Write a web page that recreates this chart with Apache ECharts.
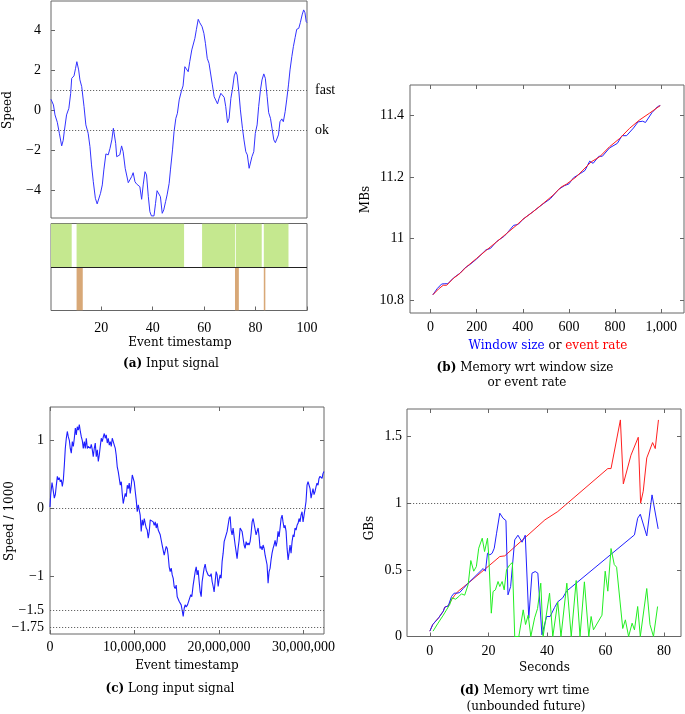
<!DOCTYPE html>
<html><head><meta charset="utf-8">
<script src="https://cdn.jsdelivr.net/npm/echarts@6/dist/echarts.min.js"></script>
<style>html,body{margin:0;padding:0;background:#fff}#c{width:685px;height:714px}</style>
</head><body><div id="c"></div>
<script>
// ---------- (a) Input signal ----------
const inputSignal = [[0.45,0.55],[1.4,0.27],[2.0,-0.23],[2.9,-0.6],[3.7,-1.15],[4.1,-1.2],[4.6,-1.78],[5.2,-1.5],[5.6,-1.07],[6.5,-0.23],[7.4,0.1],[8.1,0.85],[8.5,1.6],[9.4,1.72],[10.0,2.1],[10.5,2.43],[11.2,2.02],[11.7,1.52],[12.4,1.18],[13.3,0.18],[14.0,-0.73],[14.9,-1.15],[15.6,-1.82],[16.2,-2.73],[16.9,-3.57],[17.7,-4.4],[18.4,-4.68],[19.1,-4.68],[19.7,-4.15],[20.4,-3.73],[21.0,-2.98],[21.8,-2.18],[22.7,-2.23],[23.4,-1.9],[24.1,-1.48],[24.7,-0.9],[25.0,-0.98],[25.6,-1.65],[26.0,-2.32],[26.6,-2.28],[27.2,-2.23],[27.9,-1.78],[28.5,-2.07],[29.3,-2.9],[29.8,-2.98],[30.5,-3.62],[31.1,-3.57],[31.8,-3.32],[32.4,-3.12],[33.1,-3.57],[33.7,-3.68],[34.4,-3.62],[35.0,-3.82],[35.7,-4.45],[36.3,-3.73],[37.0,-3.07],[37.6,-3.23],[38.3,-4.32],[38.9,-5.07],[39.5,-5.28],[40.5,-5.28],[41.1,-4.65],[41.7,-4.02],[42.4,-3.95],[43.0,-4.32],[43.7,-5.15],[44.3,-4.98],[45.0,-4.57],[45.6,-4.23],[46.4,-3.65],[46.9,-2.98],[47.7,-1.98],[48.3,-1.07],[49.0,-0.4],[49.6,-0.15],[50.3,0.52],[51.2,0.98],[51.8,1.22],[52.5,2.18],[53.1,2.1],[53.8,1.93],[54.4,2.43],[55.2,3.02],[55.7,3.1],[56.4,3.6],[57.0,4.05],[57.7,4.55],[58.3,4.38],[59.2,4.18],[59.9,3.85],[60.5,3.35],[61.2,2.6],[61.9,2.35],[62.6,2.27],[63.2,1.27],[63.9,0.68],[64.5,0.6],[65.2,0.32],[65.8,0.6],[66.5,0.85],[67.1,0.8],[67.8,0.65],[68.4,0.18],[69.1,-0.62],[69.7,-0.4],[70.4,0.6],[71.0,1.05],[71.7,1.72],[72.3,1.93],[72.8,1.77],[73.5,0.93],[74.1,0.02],[74.9,-0.9],[75.5,-1.48],[76.2,-2.07],[76.8,-2.23],[77.5,-2.9],[78.0,-2.95],[78.6,-2.32],[79.3,-2.07],[79.9,-1.15],[80.6,-0.73],[81.2,0.18],[81.9,1.02],[82.5,1.52],[83.2,1.82],[83.8,1.6],[84.5,0.68],[85.1,-0.12],[85.8,-0.4],[86.4,-0.9],[87.1,-1.48],[87.7,-1.62],[88.3,-1.68],[88.9,-1.23],[89.5,-0.57],[90.2,-0.43],[90.8,-0.57],[91.5,-0.07],[92.1,0.52],[92.8,1.27],[93.4,2.02],[94.1,2.68],[94.7,3.18],[95.4,3.65],[96.0,4.05],[96.8,4.1],[97.4,4.38],[98.1,4.77],[98.7,5.02],[99.2,4.88],[99.7,4.43],[100,4.38]];
const thresholds = [{value:1,label:'fast'},{value:-1,label:'ok'}];
const greenBands = [[0.45,8.5],[10.4,52.2],[59.2,72.0],[72.3,82.4],[83.2,92.8]];
const brownBands = [[10.4,12.8],[72.0,73.5],[83.2,83.8]];
const aTicksX = [20,40,60,80,100];
const aTicksY = [-4,-2,0,2,4];

// ---------- (b) Memory wrt window size / event rate ----------
const memWindow = [[10,10.817],[30,10.838],[48,10.852],[62,10.853],[75,10.853],[100,10.872],[127,10.887],[150,10.905],[170,10.915],[199,10.933],[240,10.963],[260,10.968],[286,10.99],[320,11.008],[340,11.025],[360,11.043],[380,11.046],[401,11.063],[440,11.085],[488,11.113],[520,11.13],[555,11.16],[580,11.172],[600,11.178],[620,11.198],[650,11.212],[670,11.222],[690,11.252],[705,11.245],[730,11.268],[745,11.268],[776,11.295],[810,11.31],[830,11.335],[850,11.335],[880,11.36],[900,11.38],[920,11.382],[932,11.378],[960,11.41],[985,11.43],[996,11.433]];
const memRate = [[10,10.817],[35,10.836],[55,10.848],[70,10.848],[98,10.870],[127,10.886],[156,10.908],[199,10.935],[242,10.962],[286,10.989],[329,11.016],[372,11.043],[401,11.063],[444,11.087],[488,11.114],[531,11.141],[567,11.168],[589,11.177],[632,11.201],[661,11.223],[697,11.25],[733,11.266],[776,11.299],[820,11.326],[863,11.359],[906,11.386],[949,11.408],[996,11.433]];
const bTicksX = [0,200,400,600,800,1000];
const bTicksY = [10.8,11,11.2,11.4];

// ---------- (c) Long input signal (timestamps in millions) ----------
const longSignal = [[0,0.02],[0.08,0.20],[0.24,0.38],[0.35,0.29],[0.51,0.15],[0.63,0.20],[0.75,0.34],[0.87,0.47],[0.99,0.42],[1.10,0.45],[1.22,0.39],[1.34,0.42],[1.46,0.32],[1.58,0.42],[1.70,0.64],[1.81,0.88],[1.93,1.03],[2.05,1.13],[2.17,1.05],[2.29,1.00],[2.40,0.88],[2.52,0.81],[2.64,0.98],[2.76,0.91],[2.88,1.03],[3.00,1.18],[3.11,1.08],[3.23,1.20],[3.35,1.15],[3.47,1.23],[3.59,1.13],[3.71,1.05],[3.82,1.00],[3.94,0.88],[4.06,0.98],[4.18,0.88],[4.30,1.03],[4.42,0.88],[4.53,0.91],[4.65,0.93],[4.77,0.88],[4.89,0.94],[5.01,0.86],[5.12,0.76],[5.24,0.88],[5.36,0.96],[5.48,0.76],[5.60,0.86],[5.72,0.69],[5.83,0.78],[5.95,0.91],[6.07,1.03],[6.19,0.98],[6.31,1.05],[6.43,1.10],[6.54,1.03],[6.66,1.08],[6.78,0.96],[6.90,1.03],[7.02,0.93],[7.14,0.98],[7.25,0.91],[7.37,1.03],[7.49,0.98],[7.61,0.93],[7.73,0.88],[7.84,0.78],[7.96,0.61],[8.08,0.54],[8.20,0.44],[8.32,0.34],[8.44,0.39],[8.55,0.22],[8.67,0.07],[8.79,0.15],[8.91,0.22],[9.03,0.17],[9.15,0.34],[9.26,0.29],[9.38,0.37],[9.50,0.22],[9.62,0.34],[9.74,0.49],[9.86,0.47],[9.97,0.39],[10.09,0.25],[10.21,0.12],[10.33,-0.05],[10.45,0.05],[10.56,0.07],[10.68,-0.10],[10.80,-0.34],[10.92,-0.17],[11.04,-0.25],[11.16,-0.15],[11.27,-0.22],[11.39,-0.29],[11.51,-0.32],[11.63,-0.44],[11.75,-0.34],[11.87,-0.17],[11.98,-0.15],[12.10,-0.17],[12.22,-0.20],[12.34,-0.25],[12.46,-0.20],[12.58,-0.29],[12.69,-0.22],[12.81,-0.32],[12.93,-0.34],[13.05,-0.39],[13.17,-0.47],[13.28,-0.54],[13.40,-0.56],[13.52,-0.69],[13.64,-0.71],[13.76,-0.56],[13.88,-0.59],[13.99,-0.69],[14.11,-0.86],[14.23,-0.93],[14.35,-0.88],[14.47,-0.98],[14.59,-1.03],[14.70,-1.15],[14.82,-1.18],[14.94,-1.13],[15.06,-1.30],[15.18,-1.32],[15.30,-1.37],[15.41,-1.35],[15.53,-1.42],[15.65,-1.50],[15.77,-1.59],[15.89,-1.47],[16.00,-1.42],[16.12,-1.45],
[16.28,-1.42],[16.48,-1.40],[16.67,-1.27],[16.79,-1.30],[16.95,-1.13],[17.07,-1.03],[17.19,-0.93],[17.31,-0.86],[17.42,-0.98],[17.54,-0.91],[17.66,-1.08],[17.78,-1.23],[17.90,-1.30],[18.01,-1.08],[18.13,-0.98],[18.25,-0.88],[18.37,-0.82],[18.49,-0.91],[18.61,-0.93],[18.72,-0.98],[18.84,-0.96],[18.96,-1.00],[19.08,-0.96],[19.20,-1.08],[19.32,-1.15],[19.43,-1.23],[19.55,-1.08],[19.67,-0.93],[19.79,-0.98],[19.91,-1.15],[20.02,-1.05],[20.14,-0.98],[20.26,-1.03],[20.38,-0.78],[20.50,-0.66],[20.62,-0.49],[20.73,-0.47],[20.85,-0.51],[20.97,-0.34],[21.09,-0.32],[21.21,-0.15],[21.33,-0.12],[21.44,-0.32],[21.56,-0.39],[21.68,-0.29],[21.80,-0.42],[21.92,-0.54],[22.04,-0.64],[22.15,-0.74],[22.27,-0.59],[22.39,-0.47],[22.51,-0.29],[22.63,-0.27],[22.74,-0.34],[22.86,-0.44],[22.98,-0.54],[23.10,-0.59],[23.22,-0.49],[23.34,-0.54],[23.45,-0.51],[23.57,-0.54],[23.69,-0.49],[23.81,-0.37],[23.93,-0.20],[24.05,-0.15],[24.16,-0.15],[24.28,-0.17],[24.40,-0.39],[24.52,-0.34],[24.64,-0.29],[24.76,-0.42],[24.87,-0.59],[24.99,-0.56],[25.11,-0.61],[25.23,-0.54],[25.35,-0.59],[25.47,-0.69],[25.58,-0.71],[25.70,-0.83],[25.82,-1.10],[25.94,-0.93],[26.06,-0.88],[26.17,-0.76],[26.29,-0.66],[26.41,-0.59],[26.53,-0.54],[26.65,-0.47],[26.77,-0.56],[26.88,-0.49],[27.00,-0.34],[27.12,-0.42],[27.24,-0.29],[27.36,-0.15],[27.48,-0.10],[27.59,-0.20],[27.71,-0.29],[27.83,-0.25],[27.95,-0.34],[28.07,-0.59],[28.19,-0.76],[28.30,-0.66],[28.42,-0.54],[28.54,-0.66],[28.66,-0.49],[28.78,-0.39],[28.89,-0.42],[29.01,-0.29],[29.13,-0.32],[29.25,-0.25],[29.37,-0.22],[29.49,-0.15],[29.60,-0.20],[29.72,-0.10],[29.84,-0.05],[29.96,-0.20],[30.08,-0.10],[30.20,0.00],[30.31,0.10],[30.43,0.34],[30.55,0.39],[30.67,0.37],[30.79,0.29],[30.91,0.15],[31.02,0.22],[31.14,0.29],[31.26,0.20],[31.38,0.25],[31.50,0.32],[31.61,0.37],[31.73,0.34],[31.85,0.44],[31.97,0.47],[32.09,0.49],[32.21,0.44],[32.32,0.51],[32.44,0.54]];
const longRefLines = [0,-1.5,-1.75];
const cTicksX = [0,10,20,30];
const cTicksY = [1,0,-1];
const cLabelsY = [1,0,-1,-1.5,-1.75];

// ---------- (d) Memory wrt time ----------
const memRed = [[0,0.04],[1,0.09],[3,0.14],[4.6,0.19],[5.1,0.22],[6.3,0.23],[7.4,0.275],[8.5,0.31],[9.7,0.34],[11.4,0.37],[13.1,0.40],[19.9,0.525],[23.9,0.60],[25.6,0.605],[39.3,0.875],[43.7,0.9375],[44.3,0.94],[60.8,1.26],[61.9,1.26],[65.1,1.625],[66.1,1.145],[68.7,1.36],[71.2,1.495],[72.0,1.0],[72.9,1.09],[74.1,1.34],[76.1,1.455],[77.0,1.41],[78.1,1.625]];
const memBlue = [[0,0.04],[1,0.09],[3,0.14],[4.6,0.19],[5.1,0.22],[6.3,0.23],[7.4,0.30],[8.3,0.325],[9.3,0.325],[10.2,0.33],[11.4,0.36],[13.1,0.40],[18.2,0.51],[19.0,0.49],[19.7,0.625],[20.5,0.6125],[21.3,0.625],[22.0,0.6625],[22.8,0.775],[23.9,0.925],[25.0,0.8875],[26.0,0.87],[26.7,0.3125],[27.6,0.375],[29.0,0.725],[30.1,0.76],[30.7,0.76],[31.5,0.7075],[32.6,0.76],[33.8,0.1375],[34.9,0.475],[36.0,0.4875],[36.9,0.475],[38.3,0.0125],[39.9,0.15],[41.1,0.15],[42.6,0.2175],[43.7,0.26],[45.4,0.29],[46.7,0.34],[69.9,0.7625],[71.0,0.8875],[71.9,0.9175],[74.1,0.755],[75.9,1.0625],[78.0,0.8075]];
const memGreen = [[1.1,0.04],[2.8,0.1],[4.6,0.16],[5.7,0.2],[6.8,0.24],[7.6,0.29],[8.8,0.28],[9.9,0.3],[10.8,0.32],[11.9,0.31],[13.1,0.39],[14.0,0.57],[15.0,0.49],[15.9,0.525],[16.7,0.6625],[17.9,0.7375],[18.7,0.6375],[19.7,0.7375],[20.1,0.6125],[21.0,0.175],[21.6,0.3375],[22.4,0.35],[23.3,0.4125],[23.9,0.375],[24.7,0.4125],[25.4,0.35],[26.2,0.5],[27.3,0.5375],[27.9,0.54],[28.2,0.555],[29.0,0.0],[30.4,0.0],[31.9,0.2],[32.7,0.09],[33.6,0.16],[34.5,0.0],[35.8,0.14],[36.8,0.21],[37.9,0.40],[38.7,0.0],[40.9,0.325],[42.0,0.0],[43.7,0.26],[44.8,0.0],[46.8,0.40],[48.3,0.0],[50.0,0.42],[51.3,0.0],[52.8,0.41],[54.3,0.0],[55.1,0.15],[55.9,0.05],[58.8,0.16],[59.9,0.49],[60.8,0.34],[61.9,0.66],[63.0,0.54],[63.8,0.52],[65.9,0.06],[66.8,0.125],[67.9,0.0],[69.1,0.1],[69.9,0.05],[71.0,0.225],[71.9,0.0],[74.1,0.36],[75.2,0.09],[76.4,0.0],[77.8,0.225]];
const dTicksX = [0,20,40,60,80];
const dTicksY = [0,0.5,1,1.5];
const memLimit = 1;

// ---------- rendering ----------
const FONT = '"Liberation Serif", "Times New Roman", serif';
const TFONT = '"DejaVu Serif", serif';
const FS = 14;
const TFS = 12;
const AXC = '#666';
const minus = v => String(v).replace('-', '\u2212');
const commas = n => String(Math.round(n)).replace(/\B(?=(\d{3})+(?!\d))/g, ',');
const lbl = (vals, extra) => Object.assign({show:true, customValues: vals, fontFamily: FONT, fontSize: FS, color:'#000'}, extra || {});
const tick = vals => ({show:true, inside:true, length:4, customValues: vals, lineStyle:{color:AXC, width:1}});
function axis(grid, min, max, pos, ticks, labels, labelExtra) {
  return {
    type:'value', gridIndex:grid, min:min, max:max, position:pos,
    axisLine:{show:false, onZero:false}, splitLine:{show:false},
    axisTick: ticks ? tick(ticks) : {show:false},
    axisLabel: labels ? lbl(labels, labelExtra) : {show:false}
  };
}
const gridBase = {show:true, borderColor:AXC, borderWidth:1, backgroundColor:'transparent', containLabel:false, outerBoundsMode:'none'};
const dotted = {type:[1.2,1.8], color:'#555', width:0.9};

const bandData = greenBands.map(b => [b[0], b[1], 1]).concat(brownBands.map(b => [b[0], b[1], 0]));

const chart = echarts.init(document.getElementById('c'), null, {renderer:'canvas'});
const txt = (text, x, y, rot, extra) => ({
  type:'text', x:x, y:y, rotation: rot || 0, silent:true,
  style: Object.assign({text:text, font: TFS + 'px ' + TFONT, fill:'#000', align:'center', verticalAlign:'middle'}, extra || {})
});
const capRich = {b:{fontFamily:TFONT, fontSize:TFS, fontWeight:'bold', fill:'#000'}, n:{fontFamily:TFONT, fontSize:TFS, fill:'#000'}};

chart.setOption({
  animation:false,
  backgroundColor:'#fff',
  grid:[
    Object.assign({left:51, top:1, width:256, height:217}, gridBase),
    Object.assign({left:51, top:223.5, width:256, height:87}, gridBase),
    Object.assign({left:410, top:85, width:274, height:228}, gridBase),
    Object.assign({left:50, top:407, width:274, height:227}, gridBase),
    Object.assign({left:407, top:409, width:274, height:227.5}, gridBase)
  ],
  xAxis:[
    axis(0, 0.45, 100, 'bottom', null, null),
    axis(1, 0.45, 100, 'bottom', aTicksX, aTicksX, {margin:11}),
    axis(2, -89, 1099, 'bottom', bTicksX, bTicksX, {margin:7, formatter: v => commas(v)}),
    axis(2, -89, 1099, 'top', bTicksX, null),
    axis(3, 0, 32.44, 'bottom', cTicksX, cTicksX, {margin:6, formatter: v => commas(v * 1e6)}),
    axis(3, 0, 32.44, 'top', cTicksX, null),
    axis(4, -7.8, 85.8, 'bottom', dTicksX, dTicksX, {margin:8}),
    axis(4, -7.8, 85.8, 'top', dTicksX, null)
  ],
  yAxis:[
    axis(0, -5.385, 5.465, 'left', aTicksY, aTicksY, {margin:10, formatter: minus}),
    axis(1, 0, 2, 'left', null, null),
    axis(2, 10.7577, 11.5, 'left', bTicksY, bTicksY, {margin:6}),
    axis(2, 10.7577, 11.5, 'right', bTicksY, null),
    axis(3, -1.8485, 1.4897, 'left', cTicksY, cLabelsY, {margin:6, formatter: minus}),
    axis(3, -1.8485, 1.4897, 'right', cTicksY, null),
    axis(4, 0, 1.707, 'left', dTicksY, dTicksY, {margin:5}),
    axis(4, 0, 1.707, 'right', dTicksY, null)
  ],
  series:[
    {type:'line', xAxisIndex:0, yAxisIndex:0, data:inputSignal, showSymbol:false, symbol:'none',
     lineStyle:{color:'#3333ff', width:1}, clip:true,
     markLine:{silent:true, symbol:'none', lineStyle:dotted,
       data: thresholds.map(t => ({yAxis:t.value, label:{show:true, position:'end', distance:8, formatter:t.label, fontFamily:FONT, fontSize:FS, color:'#000'}}))}},
    {type:'custom', xAxisIndex:1, yAxisIndex:1, data:bandData, clip:true,
     renderItem:(params, api) => {
       const lane = api.value(2);
       const p0 = api.coord([api.value(0), lane + 1]);
       const p1 = api.coord([api.value(1), lane]);
       return {type:'rect', shape:{x:p0[0], y:p0[1], width:p1[0]-p0[0], height:p1[1]-p0[1]},
               style:{fill: lane === 1 ? '#c5e88f' : '#d8a877'}};
     },
     markLine:{silent:true, symbol:'none', lineStyle:{type:'solid', color:'#222', width:1}, label:{show:false}, data:[{yAxis:1}]}},
    {type:'line', xAxisIndex:2, yAxisIndex:2, data:memWindow, symbol:'none', lineStyle:{color:'#2222ff', width:1}},
    {type:'line', xAxisIndex:2, yAxisIndex:2, data:memRate, symbol:'none', lineStyle:{color:'#ff1a1a', width:1}},
    {type:'line', xAxisIndex:4, yAxisIndex:4, data:longSignal, symbol:'none', lineStyle:{color:'#1f1fff', width:1.1}, clip:true,
     markLine:{silent:true, symbol:'none', lineStyle:dotted, label:{show:false}, data: longRefLines.map(v => ({yAxis:v}))}},
    {type:'line', xAxisIndex:6, yAxisIndex:6, data:memRed, symbol:'none', lineStyle:{color:'#ff2020', width:1}, clip:true,
     markLine:{silent:true, symbol:'none', lineStyle:dotted, label:{show:false}, data:[{yAxis:memLimit}]}},
    {type:'line', xAxisIndex:6, yAxisIndex:6, data:memBlue, symbol:'none', lineStyle:{color:'#2020ff', width:1}, clip:true},
    {type:'line', xAxisIndex:6, yAxisIndex:6, data:memGreen, symbol:'none', lineStyle:{color:'#22ee22', width:1}, clip:true}
  ],
  graphic:[
    txt('Speed', 7.5, 110, Math.PI/2),
    txt('Event timestamp', 180, 342.5),
    txt('{b|(a)}{n| Input signal}', 171, 364, 0, {rich:capRich}),
    txt('MBs', 366, 199.5, Math.PI/2),
    txt('{bl|Window size}{n| or }{rd|event rate}', 548, 345.5, 0, {rich:{bl:{fontFamily:TFONT, fontSize:TFS, fill:'#0000ff'}, n:{fontFamily:TFONT, fontSize:TFS, fill:'#000'}, rd:{fontFamily:TFONT, fontSize:TFS, fill:'#ff0000'}}}),
    txt('{b|(b)}{n| Memory wrt window size}', 525, 367.5, 0, {rich:capRich}),
    txt('or event rate', 527, 382.5),
    txt('Speed / 1000', 9.5, 521, Math.PI/2),
    txt('Event timestamp', 187, 665.8),
    txt('{b|(c)}{n| Long input signal}', 170, 688.8, 0, {rich:capRich}),
    txt('GBs', 370, 528, Math.PI/2),
    txt('Seconds', 544.5, 668),
    txt('{b|(d)}{n| Memory wrt time}', 524.5, 690.8, 0, {rich:capRich}),
    txt('(unbounded future)', 526, 706.5)
  ]
});
</script></body></html>
